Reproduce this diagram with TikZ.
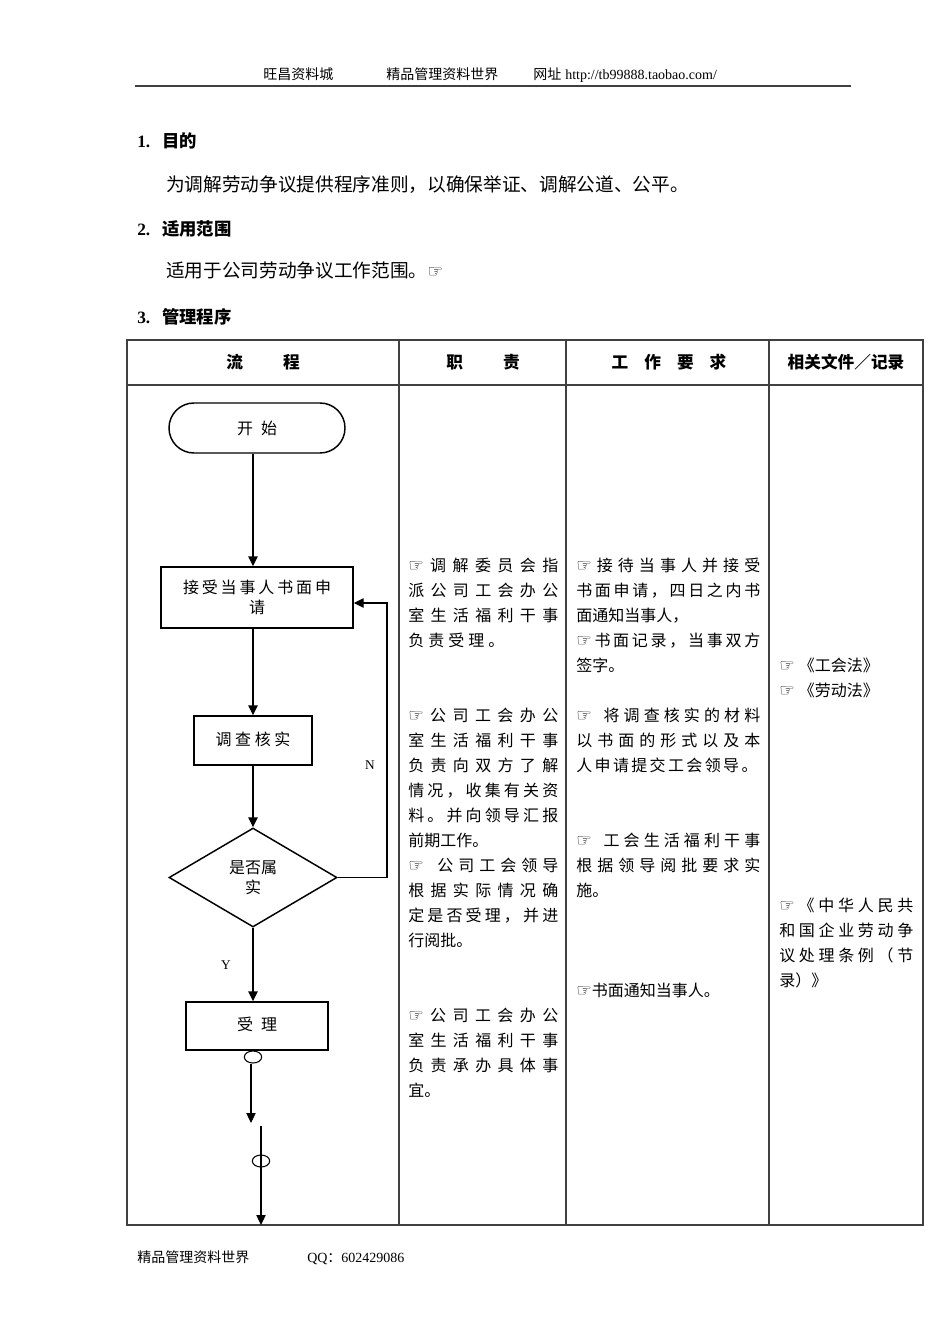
\documentclass[tikz,border=0pt]{standalone}
\usepackage{fontspec}
\setmainfont{Liberation Serif}
\newfontfamily\cjk{Noto Sans CJK SC}
\newfontfamily\dejavu{DejaVu Sans}
\usetikzlibrary{shapes.geometric,arrows.meta}
\makeatletter
\def\spr#1#2{\hbox to #1{\spr@#2\@nil}}
\def\spr@#1#2\@nil{#1\@tfor\spr@x:=#2\do{\hfil\spr@x}}
\makeatother
\newcommand\hand{{\dejavu\fontsize{13}{13}\selectfont ☞}}
\begin{document}
\begin{tikzpicture}[x=0.75pt,y=-0.75pt,
  tx/.style={anchor=base west,inner sep=0pt,font=\cjk\fontsize{12}{14}\selectfont},
  body/.style={anchor=base west,inner sep=0pt,font=\cjk\fontsize{14}{16}\selectfont},
  head/.style={anchor=base west,inner sep=0pt,font=\cjk\bfseries\fontsize{13}{15}\selectfont},
  colhead/.style={anchor=base,inner sep=0pt,font=\cjk\bfseries\fontsize{12.5}{15}\selectfont},
  small/.style={anchor=base west,inner sep=0pt,font=\cjk\fontsize{10.5}{12}\selectfont},
  fl/.style={draw,line width=1.1pt,font=\cjk\fontsize{12}{15}\selectfont,align=center,inner sep=0pt},
  tbl/.style={draw=black!75,line width=1.1pt},
  arr/.style={line width=1.1pt,-{Triangle[length=7.5pt,width=7pt]}},
  thinarr/.style={line width=0.8pt,-{Triangle[length=7.5pt,width=7pt]}},
  yn/.style={inner sep=0pt,font=\fontsize{10}{12}\selectfont},
  ell/.style={draw,ellipse,line width=0.8pt,minimum width=13pt,minimum height=9pt,inner sep=0pt}]
\useasboundingbox (0,0) rectangle (950,1344);
\fill[white] (0,0) rectangle (950,1344);

% page header
\node[small] (hA) at (263,80) {旺昌资料城};
\node[small] (hB) at (386,80) {精品管理资料世界};
\node[small] (hC) at (533,80) {网址\hspace{3pt}{\rmfamily http://tb99888.taobao.com/}};
\draw[line width=1.6pt,black!75] (135,86) -- (851,86);

% sections
\node[head] (s1) at (137,148) {{\rmfamily\bfseries 1.}\hspace{9pt}目的};
\node[body] (p1) at (166,192) {为调解劳动争议提供程序准则，以确保举证、调解公道、公平。};
\node[head] (s2) at (137,236) {{\rmfamily\bfseries 2.}\hspace{9pt}适用范围};
\node[body] (p2) at (166,278) {适用于公司劳动争议工作范围。\hand};
\node[head] (s3) at (137,324) {{\rmfamily\bfseries 3.}\hspace{9pt}管理程序};

% table
\draw[tbl] (127,340) rectangle (923,1225);
\draw[tbl] (127,385) -- (923,385);
\draw[tbl] (399,340) -- (399,1225);
\draw[tbl] (566,340) -- (566,1225);
\draw[tbl] (769,340) -- (769,1225);
\node[colhead] (c1h) at (263,368) {流\hspace{30pt}程};
\node[colhead] (c2h) at (483,368) {职\hspace{30pt}责};
\node[colhead] (c3h) at (669,368) {工\hspace{12pt}作\hspace{12pt}要\hspace{12pt}求};
\node[colhead] (c4h) at (846,368) {相关文件／记录};

% flow chart
\node[fl,rounded corners=18.7pt,minimum width=132pt,minimum height=37.5pt] (start) at (257,428) {开\hspace{6pt}始};
\node[fl,minimum width=144pt,minimum height=45.75pt] (b1) at (257,597.5) {\spr{111pt}{接受当事人书面申}\\请};
\node[fl,minimum width=88.5pt,minimum height=36.75pt] (b2) at (253,740.5) {\raisebox{3pt}{\spr{56pt}{调查核实}}};
\node[fl,diamond,minimum width=126pt,minimum height=74.25pt] (dia) at (253,877.5) {是否属\\实};
\node[fl,minimum width=106.5pt,minimum height=36pt] (b3) at (257,1026) {\raisebox{4pt}{受\hspace{6pt}理}};

\draw[arr] (start.south -| b2) -- (b1.north -| b2);
\draw[arr] (b1.south -| b2) -- (b2.north);
\draw[arr] (b2.south) -- (dia.north);
\draw[arr] (dia.south) -- (b3.north -| dia);
\coordinate (lp) at (387,603);
\draw[arr] (dia.east) -| (lp) -- (lp -| b1.east);
\node[yn] (lN) at (370,765) {N};
\node[yn] (lY) at (226,965) {Y};

\node[ell] (e1) at (253,1057) {};
\coordinate (a1) at (251,1123);
\draw[thinarr] (e1.south -| a1) -- (a1);
\coordinate (g0) at (261,1126);
\coordinate (g1) at (261,1225);
\draw[thinarr] (g0) -- (g1);
\node[ell] (e2) at (261,1161) {};

% column 2
\node[tx] (r1) at (408,571) {\spr{112.5pt}{\hand 调解委员会指}};
\node[tx] (r2) at (408,596) {\spr{112.5pt}{派公司工会办公}};
\node[tx] (r3) at (408,621) {\spr{112.5pt}{室生活福利干事}};
\node[tx] (r4) at (408,646) {\spr{72pt}{负责受理。}};
\node[tx] (r5) at (408,721) {\spr{112.5pt}{\hand 公司工会办公}};
\node[tx] (r6) at (408,746) {\spr{112.5pt}{室生活福利干事}};
\node[tx] (r7) at (408,771) {\spr{112.5pt}{负责向双方了解}};
\node[tx] (r8) at (408,796) {\spr{112.5pt}{情况，收集有关资}};
\node[tx] (r9) at (408,821) {\spr{112.5pt}{料。并向领导汇报}};
\node[tx] (r10) at (408,846) {前期工作。};
\node[tx] (r11) at (408,871) {\spr{112.5pt}{\hand{\ }公司工会领导}};
\node[tx] (r12) at (408,896) {\spr{112.5pt}{根据实际情况确}};
\node[tx] (r13) at (408,921) {\spr{112.5pt}{定是否受理，并进}};
\node[tx] (r14) at (408,946) {行阅批。};
\node[tx] (r15) at (408,1021) {\spr{112.5pt}{\hand 公司工会办公}};
\node[tx] (r16) at (408,1046) {\spr{112.5pt}{室生活福利干事}};
\node[tx] (r17) at (408,1071) {\spr{112.5pt}{负责承办具体事}};
\node[tx] (r18) at (408,1096) {宜。};

% column 3
\node[tx] (w1) at (576,571) {\spr{138pt}{\hand 接待当事人并接受}};
\node[tx] (w2) at (576,596) {\spr{138pt}{书面申请，四日之内书}};
\node[tx] (w3) at (576,621) {面通知当事人，};
\node[tx] (w4) at (576,646) {\spr{138pt}{\hand 书面记录，当事双方}};
\node[tx] (w5) at (576,671) {签字。};
\node[tx] (w6) at (576,721) {\spr{138pt}{\hand{\ }将调查核实的材料}};
\node[tx] (w7) at (576,746) {\spr{138pt}{以书面的形式以及本}};
\node[tx] (w8) at (576,771) {\spr{136pt}{人申请提交工会领导。}};
\node[tx] (w9) at (576,846) {\spr{138pt}{\hand{\ }工会生活福利干事}};
\node[tx] (w10) at (576,871) {\spr{138pt}{根据领导阅批要求实}};
\node[tx] (w11) at (576,896) {施。};
\node[tx] (w12) at (576,996) {\hand 书面通知当事人。};

% column 4
\node[tx] (d1) at (779,671) {\hand\hspace{3pt}《工会法》};
\node[tx] (d2) at (779,696) {\hand\hspace{3pt}《劳动法》};
\node[tx] (d3) at (779,911) {\spr{100.5pt}{\hand《中华人民共}};
\node[tx] (d4) at (779,936) {\spr{100.5pt}{和国企业劳动争}};
\node[tx] (d5) at (779,961) {\spr{100.5pt}{议处理条例（节}};
\node[tx] (d6) at (779,986) {录）》};

% footer
\node[small] (f1) at (137,1262) {精品管理资料世界};
\node[small] (f2) at (307,1262) {{\rmfamily QQ}：{\rmfamily 602429086}};
\end{tikzpicture}
\end{document}
